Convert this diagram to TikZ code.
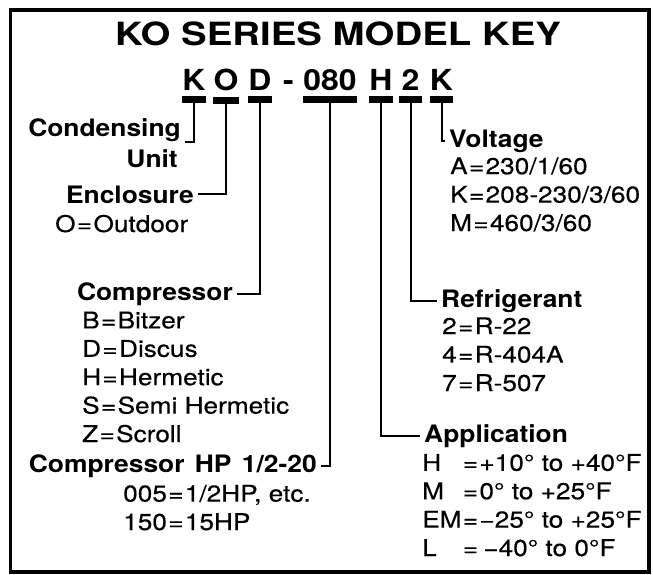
\documentclass[tikz,border=0pt]{standalone}
\usepackage{fontspec}
\setmainfont{TeX Gyre Heros}[FakeStretch=1.1]
\newfontfamily\titlefont{TeX Gyre Heros}[FakeStretch=1.2]
\newfontfamily\itemfont{TeX Gyre Heros}[FakeStretch=1.14, FakeBold=0.4]
\usetikzlibrary{positioning}
\newcommand\eq{\kern1.3pt=\kern1.3pt}
\newcommand\akey[1]{\rlap{#1}\phantom{EM}}

\begin{document}
\begin{tikzpicture}[
    x=1pt, y=-1pt,
    modelchar/.style={font=\bfseries\fontsize{29}{30}\selectfont, inner sep=0pt, minimum width=22pt},
    heading/.style={font=\bfseries\fontsize{24}{28}\selectfont, inner xsep=4pt, inner ysep=0pt},
    itemlist/.style={font=\itemfont\fontsize{23}{28.4}\selectfont, align=left, inner sep=0pt},
    ubar/.style={line width=7pt},
    leader/.style={line width=2pt}
]
\useasboundingbox (0,0) rectangle (653,575);
\draw[line width=3.5pt] (10.5,10) rectangle (649,572);

\node[anchor=base, inner sep=0pt, font=\titlefont\bfseries\fontsize{32}{34}\selectfont] (title) at (338,46) {KO SERIES MODEL KEY};

% model number
\node[modelchar, anchor=base] (cK) at (194,91) {K};
\node[modelchar, anchor=base] (cO) at (226,91) {O};
\node[modelchar, anchor=base] (cD) at (260,91) {D};
\node[modelchar, anchor=base] (cDash) at (288.5,91) {-};
\node[modelchar, anchor=base] (cN) at (330,91) {080};
\node[modelchar, anchor=base] (cH) at (381,91) {H};
\node[modelchar, anchor=base] (cR) at (410.5,91) {2};
\node[modelchar, anchor=base] (cV) at (441.5,91) {K};

\draw[ubar] ([yshift=-8.5pt]cK.south west) -- ([yshift=-8.5pt]cK.south east);
\draw[ubar] ([yshift=-8.5pt]cO.south west) -- ([yshift=-8.5pt]cO.south east);
\draw[ubar] ([yshift=-8.5pt]cD.south west) -- ([yshift=-8.5pt]cD.south east);
\draw[ubar] ([yshift=-8.5pt]cN.south west) -- ([yshift=-8.5pt]cN.south east);
\draw[ubar] ([yshift=-8.5pt]cH.south west) -- ([yshift=-8.5pt]cH.south east);
\draw[ubar] ([yshift=-8.5pt]cR.south west) -- ([yshift=-8.5pt]cR.south east);
\draw[ubar] ([yshift=-8.5pt]cV.south west) -- ([yshift=-8.5pt]cV.south east);

% left side (lists sit on the baseline of their last line)
\node[heading, anchor=base east] (cond) at (185,137) {Condensing};
\node[heading, anchor=base east] (unit) at (182,167) {Unit};
\node[heading, anchor=base east] (encl) at (198,203) {Enclosure};
\node[itemlist, anchor=base west] (enclList) at (55,232) {O\eq Outdoor};
\node[heading, anchor=base east] (comp) at (237,300) {Compressor};
\node[itemlist, anchor=base west] (compList) at (82,442) {B\eq Bitzer\\D\eq Discus\\H\eq Hermetic\\S\eq Semi Hermetic\\Z\eq Scroll};
\node[heading, anchor=base east] (hp) at (321,472) {Compressor\kern3pt\ HP\kern3pt\ 1/2-20};
\node[itemlist, anchor=base west] (hpList) at (123,530) {005\eq 1/2HP, etc.\\150\eq 15HP};

% right side
\node[heading, anchor=base west] (volt) at (445,147) {Voltage};
\node[itemlist, anchor=base west] (voltList) at (450,231) {A\eq 230/1/60\\K\eq 208-230/3/60\\M\eq 460/3/60};
\node[heading, anchor=base west] (refr) at (437,307) {Refrigerant};
\node[itemlist, anchor=base west] (refrList) at (442,391) {2\eq R-22\\4\eq R-404A\\7\eq R-507};
\node[heading, anchor=base west] (appl) at (420,442) {Application};
\node[itemlist, anchor=base west] (applList) at (422,556) {\akey{H}\eq+10° to +40°F\\\akey{M}\eq0° to +25°F\\\akey{EM}\eq−25° to +25°F\\\akey{L}\eq\,−40° to 0°F};

\draw[leader] ([yshift=-9pt]cK.south) |- (cond.south east);
\draw[leader] ([yshift=-9pt]cO.south) |- (encl.east);
\draw[leader] ([yshift=-9pt]cD.south) |- (comp.east);
\draw[leader] ([yshift=-9pt]cN.south) |- (hp.east);
\draw[leader] ([yshift=-9pt]cH.south) |- (appl.west);
\draw[leader] ([yshift=-9pt]cR.south) |- (refr.west);
\draw[leader] ([yshift=-9pt]cV.south) |- (volt.west);
\end{tikzpicture}
\end{document}
